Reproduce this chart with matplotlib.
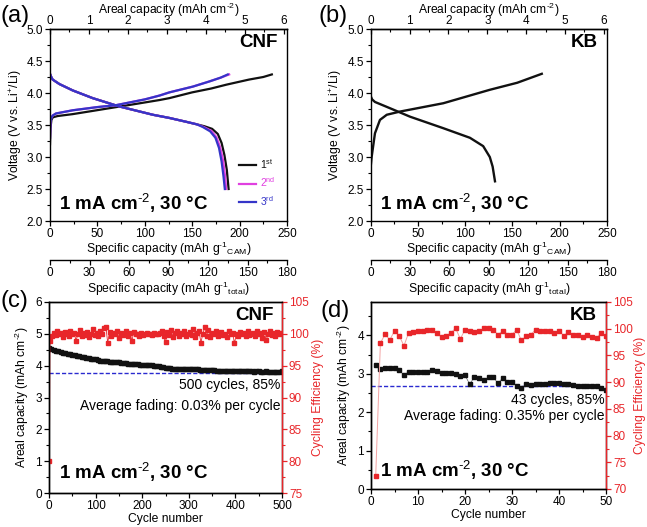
import matplotlib

matplotlib.use("Agg")
import matplotlib.pyplot as plt
import numpy as np
from matplotlib.ticker import MultipleLocator, FormatStrFormatter

# ---- (a) CNF voltage profiles (specific capacity in mAh/g CAM, voltage in V)
CNF_CH1_CAP = [0, 0.5, 1.5, 3, 8, 24, 45, 70, 95, 115.5, 126, 150, 170, 186, 210, 225, 234]
CNF_CH1_V = [3.2, 3.45, 3.58, 3.62, 3.64, 3.67, 3.72, 3.78, 3.84, 3.89, 3.92, 4.01, 4.07, 4.13, 4.21, 4.25, 4.29]
CNF_CH23_CAP = [0, 0.5, 1.5, 3, 6.3, 24, 50, 69.7, 100, 115.5, 126, 150.7, 168, 180, 188]
CNF_CH23_V = [3.3, 3.55, 3.62, 3.65, 3.68, 3.73, 3.78, 3.81, 3.90, 3.96, 4.01, 4.10, 4.18, 4.24, 4.29]
CNF_DIS_CAP_COMMON = [0, 1, 2.8, 9.9, 24, 45, 73, 108.5, 126, 143.7, 155]
CNF_DIS_V_COMMON = [4.30, 4.26, 4.21, 4.14, 4.04, 3.92, 3.79, 3.66, 3.61, 3.55, 3.51]
CNF_DIS1_TAIL_CAP = [163, 171, 177, 181, 184, 186.5, 188.4]
CNF_DIS1_TAIL_V = [3.48, 3.44, 3.36, 3.22, 3.03, 2.80, 2.50]
CNF_DIS2_TAIL_CAP = [162, 170, 175.5, 179.5, 182.5, 184.5, 185.8]
CNF_DIS2_TAIL_V = [3.47, 3.41, 3.31, 3.15, 2.95, 2.72, 2.50]
CNF_DIS3_TAIL_CAP = [161, 169, 174.5, 178.3, 181, 183, 184.4]
CNF_DIS3_TAIL_V = [3.47, 3.40, 3.30, 3.14, 2.93, 2.70, 2.50]

# ---- (b) KB voltage profile
KB_CH_CAP = [0, 1, 4.5, 9.8, 17, 31, 76.8, 126, 155, 181]
KB_CH_V = [2.85, 3.0, 3.37, 3.58, 3.66, 3.71, 3.84, 4.05, 4.16, 4.30]
KB_DIS_CAP = [0, 1.5, 4.5, 24, 41.6, 76.8, 105, 119, 126, 129, 131.5]
KB_DIS_V = [3.95, 3.90, 3.86, 3.74, 3.63, 3.45, 3.30, 3.17, 3.0, 2.85, 2.62]

# ---- (c) CNF cycling, 500 cycles
CNF_CYC = [1] + list(range(5, 501, 5))
CNF_AREAL = [4.55,
             4.51, 4.49, 4.47, 4.45, 4.43, 4.41, 4.39, 4.38, 4.36, 4.34,
             4.32, 4.30, 4.29, 4.27, 4.26, 4.24, 4.23, 4.22, 4.20, 4.20,
             4.17, 4.16, 4.15, 4.15, 4.14, 4.13, 4.12, 4.12, 4.11, 4.10,
             4.09, 4.08, 4.07, 4.06, 4.05, 4.05, 4.04, 4.04, 4.03, 4.03,
             4.03, 4.02, 4.02, 4.01, 4.00, 3.99, 3.98, 3.97, 3.96, 3.94,
             3.93, 3.92, 3.91, 3.91, 3.91, 3.90, 3.90, 3.90, 3.90, 3.89,
             3.89, 3.89, 3.88, 3.88, 3.87, 3.86, 3.86, 3.86, 3.85, 3.85,
             3.85, 3.84, 3.84, 3.84, 3.84, 3.83, 3.83, 3.83, 3.83, 3.83,
             3.83, 3.82, 3.83, 3.82, 3.82, 3.82, 3.82, 3.81, 3.82, 3.82,
             3.81, 3.81, 3.82, 3.81, 3.81, 3.81, 3.80, 3.81, 3.81, 3.82]
CNF_CE_CYC = [1] + list(range(2, 500, 4))
CNF_CE = [80.0,
          98.8, 99.6, 100.2, 99.8, 100.4, 99.9, 100.1, 99.5, 100.3, 100.0,
          99.7, 100.5, 99.9, 100.2, 98.9, 100.0, 100.6, 99.7, 100.1, 99.8,
          100.3, 99.5, 100.0, 100.7, 99.8, 100.2, 99.6, 100.4, 99.9, 100.9,
          101.1, 98.6, 100.3, 99.7, 100.1, 99.9, 100.5, 99.4, 100.2, 99.8,
          100.0, 100.4, 99.6, 100.1, 98.9, 100.3, 99.9, 100.0, 99.7, 100.2,
          99.8, 100.0, 100.1, 99.9, 100.0, 99.8, 100.1, 100.0, 99.9, 100.2,
          100.5, 99.6, 98.7, 100.3, 99.8, 100.6, 99.5, 100.1, 100.4, 99.7,
          100.2, 99.9, 100.5, 99.6, 100.0, 100.3, 99.8, 100.7, 99.5, 100.1,
          100.4, 98.6, 100.0, 101.0, 99.7, 100.6, 99.5, 100.2, 99.9, 100.4,
          99.6, 100.1, 100.3, 99.8, 100.0, 99.5, 100.4, 99.9, 100.2, 98.5,
          100.0, 99.7, 100.3, 99.9, 100.1, 99.6, 100.5, 99.8, 100.0, 100.2,
          99.7, 100.4, 99.9, 100.1, 99.4, 100.3, 99.0, 100.0, 100.5, 99.8,
          100.1, 99.6, 100.3, 99.9, 100.2]
CNF_85 = 3.76

# ---- (d) KB cycling, 50 cycles
KB_CYC = list(range(1, 51))
KB_AREAL = [3.22, 3.13, 3.16, 3.16, 3.15, 3.09, 2.97, 3.05, 3.05, 3.05,
            3.06, 3.05, 3.09, 3.08, 3.02, 3.02, 3.01, 3.00, 2.93, 2.96,
            2.73, 2.92, 2.89, 2.84, 2.91, 2.92, 2.75, 2.89, 2.78, 2.78,
            2.69, 2.63, 2.73, 2.71, 2.73, 2.73, 2.74, 2.75, 2.76, 2.76,
            2.73, 2.74, 2.71, 2.68, 2.68, 2.68, 2.67, 2.67, 2.64, 2.57]
KB_CE = [72.4, 97.3, 99.0, 97.9, 99.6, 98.7, 96.8, 99.2, 99.4, 99.5,
         99.5, 99.7, 99.7, 99.2, 98.4, 98.7, 99.2, 100.1, 98.1, 99.8,
         99.5, 99.3, 99.5, 100.1, 100.1, 99.8, 98.9, 99.5, 98.9, 98.9,
         99.8, 97.8, 98.6, 98.9, 99.8, 99.6, 99.6, 99.5, 99.2, 99.6,
         98.7, 99.3, 98.9, 98.9, 98.4, 98.9, 98.4, 98.3, 99.2, 98.7]
KB_85 = 2.69
KB_85_CYCLE = 43

AREAL_PER_CAM = 6.08 / 250   # mAh cm-2 per mAh g-1 CAM
TOTAL_PER_CAM = 180 / 250    # g total vs g CAM

BLK = "#111111"; MAG = "#e040e0"; BLU = "#3535c8"; RED = "#e8262a"
PINK = "#f3a3a3"; DASH = "#2a2ad0"
RATE = r"1 mA cm$^{\text{-2}}$, 30 °C"

plt.rcParams.update({
    "font.family": ["Liberation Sans", "DejaVu Sans"],
    "mathtext.fontset": "custom",
    "mathtext.rm": "Liberation Sans",
    "mathtext.it": "Liberation Sans:italic",
    "mathtext.bf": "Liberation Sans:bold",
    "font.size": 8,
    "axes.linewidth": 1.0,
    "xtick.labelsize": 8.5, "ytick.labelsize": 8.5,
    "axes.labelsize": 8.7,
})

W, H = 647, 527
fig = plt.figure(figsize=(W / 100, H / 100), dpi=100)


def box(l, t, r, b):
    return [l / W, 1 - b / H, (r - l) / W, (b - t) / H]


def ticks(ax, direction="out"):
    ax.tick_params(which="major", direction=direction, length=3.5, width=0.9, pad=1.5)
    ax.tick_params(which="minor", direction=direction, length=2, width=0.8)


def voltage_axes(ax, name):
    ax.set_xlim(0, 250); ax.set_ylim(2.0, 5.0)
    ax.xaxis.set_major_locator(MultipleLocator(50)); ax.xaxis.set_minor_locator(MultipleLocator(25))
    ax.yaxis.set_major_locator(MultipleLocator(0.5)); ax.yaxis.set_minor_locator(MultipleLocator(0.25))
    ax.yaxis.set_major_formatter(FormatStrFormatter("%.1f"))
    ax.tick_params(top=False)
    ticks(ax)
    ax.set_xlabel(r"Specific capacity (mAh g$^{\text{-1}}$$_{\mathrm{CAM}}$)", labelpad=0)
    ax.set_ylabel(r"Voltage (V vs. Li$^{+}$/Li)", labelpad=2)
    top = ax.secondary_xaxis("top", functions=(lambda x: x * AREAL_PER_CAM, lambda x: x / AREAL_PER_CAM))
    top.xaxis.set_major_locator(MultipleLocator(1)); top.xaxis.set_minor_locator(MultipleLocator(0.5))
    ticks(top, "in")
    top.set_xlabel(r"Areal capacity (mAh cm$^{\text{-2}}$)", labelpad=1)
    bot = ax.secondary_xaxis(-0.205, functions=(lambda x: x * TOTAL_PER_CAM, lambda x: x / TOTAL_PER_CAM))
    bot.xaxis.set_major_locator(MultipleLocator(30)); bot.xaxis.set_minor_locator(MultipleLocator(15))
    ticks(bot)
    bot.set_xlabel(r"Specific capacity (mAh g$^{\text{-1}}$$_{\mathrm{total}}$)", labelpad=0)
    ax.text(0.962, 0.93, name, transform=ax.transAxes, ha="right", va="center",
            fontsize=13.5, fontweight="bold")
    ax.text(0.04, 0.094, RATE, transform=ax.transAxes,
            ha="left", va="center", fontsize=13.5, fontweight="bold")


# (a)
ax_a = fig.add_axes(box(50, 29, 287, 221))
ax_a.plot(CNF_CH1_CAP, CNF_CH1_V, color=BLK, lw=1.6, label=r"1$^{\mathrm{st}}$")
ax_a.plot(CNF_DIS_CAP_COMMON + CNF_DIS1_TAIL_CAP, CNF_DIS_V_COMMON + CNF_DIS1_TAIL_V, color=BLK, lw=1.6)
ax_a.plot(CNF_CH23_CAP[:-1] + [189], CNF_CH23_V, color=MAG, lw=1.6, label=r"2$^{\mathrm{nd}}$")
ax_a.plot(CNF_DIS_CAP_COMMON + CNF_DIS2_TAIL_CAP, CNF_DIS_V_COMMON + CNF_DIS2_TAIL_V, color=MAG, lw=1.6)
ax_a.plot(CNF_CH23_CAP[:-1] + [187.5], CNF_CH23_V, color=BLU, lw=1.6, label=r"3$^{\mathrm{rd}}$")
ax_a.plot(CNF_DIS_CAP_COMMON + CNF_DIS3_TAIL_CAP, CNF_DIS_V_COMMON + CNF_DIS3_TAIL_V, color=BLU, lw=1.6)
voltage_axes(ax_a, "CNF")
ax_a.legend(loc="lower right", bbox_to_anchor=(0.99, 0.02), frameon=False, fontsize=7.5,
            handlelength=1.6, handletextpad=0.4, labelspacing=0.45, labelcolor="linecolor")

# (b)
ax_b = fig.add_axes(box(370.7, 29, 607, 221))
ax_b.plot(KB_CH_CAP, KB_CH_V, color=BLK, lw=1.7)
ax_b.plot(KB_DIS_CAP, KB_DIS_V, color=BLK, lw=1.7)
voltage_axes(ax_b, "KB")

# (c)
ax_c = fig.add_axes(box(49, 302, 282, 493))
ax_c.axhline(CNF_85, color=DASH, lw=1.0, ls=(0, (3, 1.5)), zorder=1)
ax_c.plot(CNF_CYC, CNF_AREAL, color=BLK, lw=2.0, marker="s", ms=3, zorder=3)
ax_c.set_xlim(0, 500); ax_c.set_ylim(0, 6)
ax_c.xaxis.set_major_locator(MultipleLocator(100)); ax_c.xaxis.set_minor_locator(MultipleLocator(50))
ax_c.yaxis.set_major_locator(MultipleLocator(1)); ax_c.yaxis.set_minor_locator(MultipleLocator(0.5))
ticks(ax_c)
ax_c.set_xlabel("Cycle number", labelpad=1)
ax_c.set_ylabel(r"Areal capacity (mAh cm$^{\text{-2}}$)", labelpad=3)
ax_c2 = ax_c.twinx()
ax_c2.plot(CNF_CE_CYC, CNF_CE, color=RED, lw=0.6, marker="s", ms=2.8, ls="-")
ax_c2.set_ylim(75, 105)
ax_c2.yaxis.set_major_locator(MultipleLocator(5)); ax_c2.yaxis.set_minor_locator(MultipleLocator(2.5))
ticks(ax_c2)
ax_c2.tick_params(axis="y", which="both", colors=RED, labelcolor=RED)
ax_c2.spines["right"].set_color(RED)
ax_c2.set_ylabel("Cycling Efficiency (%)", color=RED, labelpad=2)
ax_c.text(0.995, 0.565, "500 cycles, 85%", transform=ax_c.transAxes, ha="right", va="center", fontsize=10)
ax_c.text(0.995, 0.455, "Average fading: 0.03% per cycle", transform=ax_c.transAxes,
          ha="right", va="center", fontsize=10)
ax_c.text(0.962, 0.93, "CNF", transform=ax_c.transAxes, ha="right", va="center",
          fontsize=13.5, fontweight="bold")
ax_c.text(0.043, 0.106, RATE, transform=ax_c.transAxes,
          ha="left", va="center", fontsize=13.5, fontweight="bold")

# (d)
ax_d = fig.add_axes(box(371, 302, 606, 489))
ax_d.plot([0, KB_85_CYCLE], [KB_85, KB_85], color=DASH, lw=1.0, ls=(0, (3, 1.5)), zorder=1)
ax_d.plot(KB_CYC, KB_AREAL, color="#666666", lw=0.5, marker="s", ms=2.8, mfc=BLK, mec=BLK, zorder=3)
ax_d.set_xlim(0, 50); ax_d.set_ylim(0, 4.87)
ax_d.xaxis.set_major_locator(MultipleLocator(10)); ax_d.xaxis.set_minor_locator(MultipleLocator(5))
ax_d.set_yticks([0, 1, 2, 3, 4]); ax_d.yaxis.set_minor_locator(MultipleLocator(0.5))
ticks(ax_d)
ax_d.set_xlabel("Cycle number", labelpad=1)
ax_d.set_ylabel(r"Areal capacity (mAh cm$^{\text{-2}}$)", labelpad=3)
ax_d2 = ax_d.twinx()
ax_d2.plot(KB_CYC, KB_CE, color=PINK, lw=0.7, marker="s", ms=2.8, mfc=RED, mec=RED)
ax_d2.set_ylim(70, 105)
ax_d2.yaxis.set_major_locator(MultipleLocator(5)); ax_d2.yaxis.set_minor_locator(MultipleLocator(2.5))
ticks(ax_d2)
ax_d2.tick_params(axis="y", which="both", colors=RED, labelcolor=RED)
ax_d2.spines["right"].set_color(RED)
ax_d2.set_ylabel("Cycling Efficiency (%)", color=RED, labelpad=1)
ax_d.text(0.995, 0.476, "43 cycles, 85%", transform=ax_d.transAxes, ha="right", va="center", fontsize=10)
ax_d.text(0.995, 0.393, "Average fading: 0.35% per cycle", transform=ax_d.transAxes,
          ha="right", va="center", fontsize=10)
ax_d.text(0.962, 0.93, "KB", transform=ax_d.transAxes, ha="right", va="center",
          fontsize=13.5, fontweight="bold")
ax_d.text(0.04, 0.1, RATE, transform=ax_d.transAxes,
          ha="left", va="center", fontsize=13.5, fontweight="bold")

# panel letters
for lab, x, y in [("(a)", 0, 16), ("(b)", 318, 16), ("(c)", 0, 301), ("(d)", 320, 311)]:
    fig.text(x / W, 1 - y / H, lab, fontsize=17, ha="left", va="center")

fig.savefig("out.png", dpi=100)
